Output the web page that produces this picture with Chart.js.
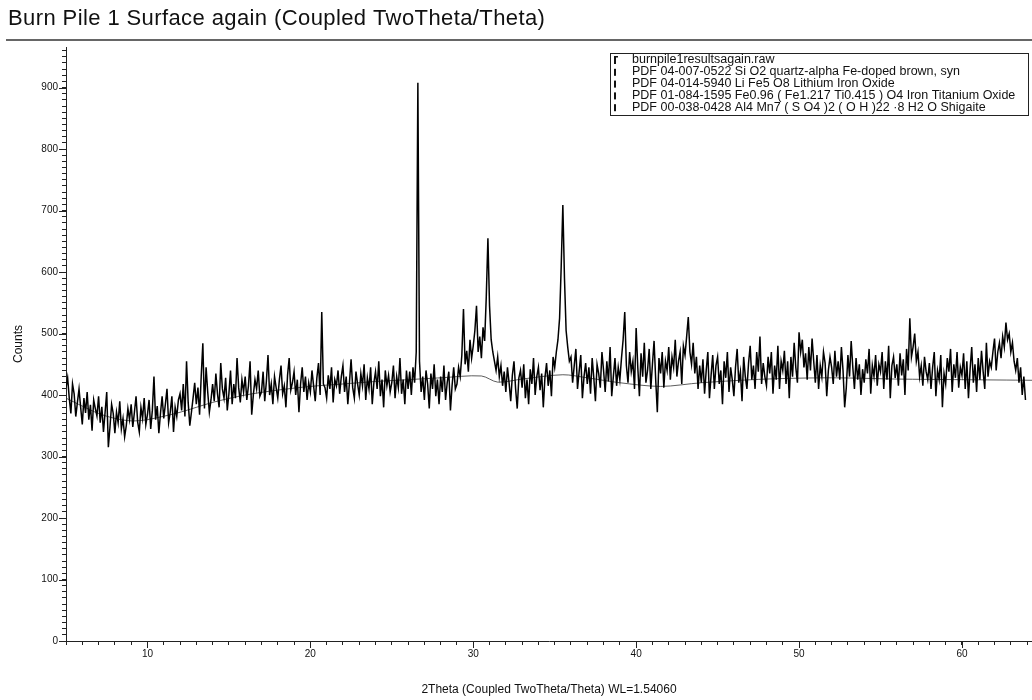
<!DOCTYPE html>
<html>
<head>
<meta charset="utf-8">
<script src="https://cdn.jsdelivr.net/npm/chart.js@4.4.1/dist/chart.umd.min.js"></script>
<style>
  html, body { margin: 0; padding: 0; background: #fff; }
  #wrap { width: 1032px; height: 700px; }
</style>
</head>
<body>
<div id="wrap"><canvas id="xrd" width="1032" height="700"></canvas></div>
<script>
// scan settings of the measurement (2Theta start and step, degrees)
const scanStart = 5.0;
const scanStep = 0.1;

// counts, one row per degree (5.0 .. 63.9)
const counts = [
  412, 428, 395, 370, 418, 402, 365, 388, 410, 380,
  352, 395, 371, 405, 360, 384, 342, 392, 378, 366,
  398, 355, 381, 340, 372, 405, 315, 348, 385, 370,
  338, 372, 355, 390, 345, 362, 332, 350, 378, 360,
  385, 348, 372, 398, 356, 340, 380, 362, 395, 352,
  368, 392, 345, 375, 430, 360, 382, 338, 370, 398,
  362, 385, 410, 355, 372, 398, 340, 380, 365, 392,
  402, 375, 418, 365, 455, 388, 350, 372, 395, 420,
  385, 412, 368, 430, 484, 378, 445, 405, 372, 392,
  418, 390, 435, 402, 380, 452, 410, 395, 428, 375,
  402, 440, 385, 418, 395, 460, 412, 388, 425, 405,
  430, 392, 415, 455, 368, 400, 425, 410, 440, 398,
  405, 438, 390, 422, 465, 400, 418, 385, 430, 412,
  395, 425, 448, 402, 415, 380, 432, 460, 408, 420,
  438, 400, 425, 372, 418, 445, 405, 430, 392, 420,
  405, 440, 415, 390, 428, 452, 400, 535, 418, 412,
  395, 432, 410, 445, 388, 425, 415, 440, 402, 430,
  448, 405, 430, 385, 420, 458, 412, 395, 438, 418,
  400, 435, 415, 450, 392, 428, 410, 445, 385, 420,
  438, 410, 455, 398, 425, 380, 440, 415, 432, 405,
  420, 448, 395, 430, 412, 460, 402, 425, 385, 440,
  410, 438, 400, 445, 420, 470, 908, 455, 405, 430,
  392, 440, 418, 378, 435, 410, 450, 398, 425, 385,
  430, 405, 448, 392, 420, 438, 375, 415, 445, 410,
  418, 445, 430, 465, 540, 450, 472, 438, 490, 460,
  480, 505, 545, 470, 495, 460, 510, 488, 560, 655,
  545, 490, 470, 455, 440, 462, 430, 448, 415, 438,
  405, 445, 420, 390, 432, 455, 410, 378, 428, 440,
  412, 450, 395, 425, 385, 442, 418, 460, 400, 430,
  445, 408, 435, 380, 428, 452, 415, 440, 398, 462,
  445, 470, 490, 525, 610, 709, 590, 505, 478, 455,
  462, 420, 448, 475, 410, 438, 465, 395, 430, 452,
  418, 445, 402, 460, 428, 390, 450, 435, 412, 470,
  440, 405, 455, 422, 478, 398, 430, 460, 415, 445,
  425, 460, 490, 535, 448, 420, 470, 438, 455, 410,
  509, 445, 398, 468, 430, 485, 420, 440, 475, 410,
  450, 488, 425, 372, 460, 435, 470, 412, 455, 440,
  478, 425, 462, 445, 490, 430, 455, 470, 418, 480,
  465, 495, 527, 470, 450, 485, 435, 462, 410, 448,
  420, 458, 402, 440, 470, 395, 432, 465, 410, 448,
  462, 418, 440, 385, 455, 428, 470, 405, 445, 425,
  398, 445, 475, 420, 438, 390, 462, 430, 410, 452,
  480, 425, 448, 410, 470, 438, 495, 418, 452, 430,
  415, 462, 435, 470, 402, 448, 425, 480, 410, 455,
  440, 472, 418, 455, 395, 462, 430, 485, 445, 420,
  502, 470, 490, 445, 468, 425, 478, 440, 492, 455,
  420, 465, 410, 448, 430, 470, 452, 398, 440, 462,
  445, 418, 472, 430, 455, 425, 478, 440, 380, 412,
  465, 430, 488, 445, 410, 460, 425, 450, 400, 442,
  420, 458, 435, 475, 402, 448, 430, 465, 415, 450,
  438, 470, 410, 455, 425, 480, 395, 448, 462, 428,
  450, 415, 468, 432, 458, 400, 475, 440, 525, 462,
  478, 500, 455, 470, 430, 448, 415, 462, 438, 425,
  452, 410, 445, 470, 398, 440, 425, 465, 380, 435,
  418, 460, 438, 475, 405, 450, 428, 470, 412, 445,
  432, 468, 410, 455, 395, 442, 478, 420, 450, 405,
  460, 425, 472, 438, 410, 485, 430, 455, 445, 470,
  492, 440, 470, 485, 460, 495, 478, 518, 490, 500,
  470, 485, 455, 440, 460, 420, 445, 400, 430, 392
];

// fitted background
const bgTheta = [5, 6, 7, 8, 9, 10, 12, 14, 16, 18, 20, 22, 24, 26, 28, 30.5, 31.5, 33, 35.5, 37, 39, 41.5, 44, 48, 52, 56, 60, 64.3];
const bgCounts = [395, 382, 370, 362, 358, 360, 372, 388, 400, 408, 414, 418, 422, 425, 428, 431, 421, 426, 433, 428, 420, 414, 420, 426, 428, 426, 425, 424];

const legendNames = [
  'burnpile1resultsagain.raw',
  'PDF 04-007-0522 Si O2 quartz-alpha Fe-doped brown, syn',
  'PDF 04-014-5940 Li Fe5 O8 Lithium Iron Oxide',
  'PDF 01-084-1595 Fe0.96 ( Fe1.217 Ti0.415 ) O4 Iron Titanium Oxide',
  'PDF 00-038-0428 Al4 Mn7 ( S O4 )2 ( O H )22 \u00b78 H2 O Shigaite'
];

const titleText = 'Burn Pile 1 Surface again (Coupled TwoTheta/Theta)';
const FONT = '"Liberation Sans", Arial, sans-serif';

const scanPts = counts.map((c, i) => ({ x: scanStart + i * scanStep, y: c }));
const bgPts = bgTheta.map((t, i) => ({ x: t, y: bgCounts[i] }));

const decor = {
  id: 'decor',
  afterDraw(chart) {
    const ctx = chart.ctx;
    const xs = chart.scales.x, ys = chart.scales.y;
    const area = chart.chartArea;
    ctx.save();

    ctx.fillStyle = '#111';
    ctx.font = '22px ' + FONT;
    ctx.letterSpacing = '0.4px';
    ctx.textBaseline = 'middle';
    ctx.textAlign = 'left';
    ctx.fillText(titleText, 8, 19);
    ctx.letterSpacing = '0px';

    ctx.strokeStyle = '#333';
    ctx.lineWidth = 1.5;
    ctx.beginPath();
    ctx.moveTo(6, 40);
    ctx.lineTo(1032, 40);
    ctx.stroke();

    // longer major ticks
    ctx.strokeStyle = '#222';
    ctx.lineWidth = 1;
    ctx.beginPath();
    xs.ticks.forEach(t => {
      if (t.value % 10 === 0) {
        const px = Math.round(xs.getPixelForValue(t.value)) + 0.5;
        ctx.moveTo(px, area.bottom);
        ctx.lineTo(px, area.bottom + 7);
      }
    });
    ys.ticks.forEach(t => {
      if (t.value % 100 === 0) {
        const py = Math.round(ys.getPixelForValue(t.value)) + 0.5;
        ctx.moveTo(area.left - 7, py);
        ctx.lineTo(area.left, py);
      }
    });
    ctx.stroke();

    // legend box
    const bx = 610, by = 53, bw = 418, rowH = 11.8;
    const bh = rowH * legendNames.length + 3;
    ctx.fillStyle = '#fff';
    ctx.fillRect(bx, by, bw, bh);
    ctx.strokeStyle = '#222';
    ctx.lineWidth = 1;
    ctx.strokeRect(bx + 0.5, by + 0.5, bw, bh);
    ctx.font = '12.5px ' + FONT;
    ctx.fillStyle = '#111';
    legendNames.forEach((name, i) => {
      const ry = by + 7 + i * rowH;
      ctx.fillRect(614, ry - 3, 2, 7);
      if (i === 0) ctx.fillRect(614, ry - 4, 4, 1.5);
      ctx.fillText(name, 632, ry);
    });
    ctx.restore();
  }
};

new Chart(document.getElementById('xrd'), {
  type: 'line',
  data: {
    datasets: [
      { data: scanPts, borderColor: '#000', borderWidth: 1.5, pointRadius: 0, tension: 0 },
      { data: bgPts, borderColor: '#333', borderWidth: 0.8, pointRadius: 0, tension: 0.3 }
    ]
  },
  options: {
    responsive: false,
    animation: false,
    events: [],
    layout: { padding: { top: 47, left: 0, right: 0, bottom: 0 } },
    plugins: { legend: { display: false }, tooltip: { enabled: false } },
    scales: {
      x: {
        type: 'linear', min: 5, max: 64.3,
        afterFit: s => { s.height = 59; },
        border: { display: true, color: '#222', width: 1 },
        grid: { drawOnChartArea: false, tickLength: 4, color: '#222' },
        ticks: {
          stepSize: 1, includeBounds: false, autoSkip: false, maxRotation: 0, padding: 3,
          color: '#111', font: { family: FONT, size: 10 },
          callback: v => (v % 10 === 0 ? v : '')
        },
        title: {
          display: true, text: '2Theta (Coupled TwoTheta/Theta) WL=1.54060',
          color: '#111', font: { family: FONT, size: 12 }, padding: { top: 0, bottom: 3 }
        }
      },
      y: {
        min: 0, max: 966,
        afterFit: s => { s.width = 66; },
        border: { display: true, color: '#222', width: 1 },
        grid: { drawOnChartArea: false, tickLength: 4, color: '#222' },
        ticks: {
          stepSize: 10, includeBounds: false, autoSkip: false, padding: 4,
          color: '#111', font: { family: FONT, size: 10 },
          callback: v => (v % 100 === 0 ? v : '')
        },
        title: {
          display: true, text: 'Counts',
          color: '#111', font: { family: FONT, size: 12 }, padding: { top: 11, bottom: 0 }
        }
      }
    }
  },
  plugins: [decor]
});
</script>
</body>
</html>
